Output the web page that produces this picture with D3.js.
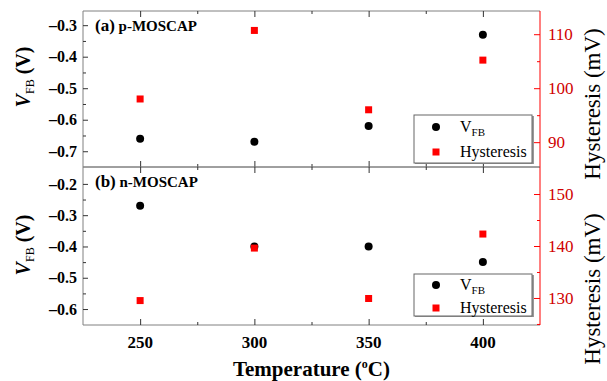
<!DOCTYPE html>
<html>
<head>
<meta charset="utf-8">
<script src="https://cdnjs.cloudflare.com/ajax/libs/d3/7.8.5/d3.min.js"></script>
<style>
  body { margin: 0; background: #fff; }
  svg text { font-family: "Liberation Serif", "Times New Roman", serif; }
</style>
</head>
<body>
<div id="chart"></div>
<script>
// data
const temps = [250, 300, 350, 400];
const vfbA = [-0.66, -0.67, -0.62, -0.33];   // p-MOSCAP flat band voltage (V)
const hysA = [98, 110.7, 96, 105.2];          // p-MOSCAP hysteresis (mV)
const vfbB = [-0.27, -0.40, -0.40, -0.45];   // n-MOSCAP
const hysB = [129.5, 139.6, 129.9, 142.3];

const xTicks = [250, 300, 350, 400];
const xMinor = [275, 325, 375];
const vTicksA = [-0.3, -0.4, -0.5, -0.6, -0.7];
const vMinorA = [-0.35, -0.45, -0.55, -0.65];
const hTicksA = [90, 100, 110];
const hMinorA = [95, 105];
const vTicksB = [-0.2, -0.3, -0.4, -0.5, -0.6];
const vMinorB = [-0.25, -0.35, -0.45, -0.55];
const hTicksB = [130, 140, 150];
const hMinorB = [125, 135, 145];

const W = 607, H = 381;
const L = 83, R = 540, T = 11, MID = 167, B = 325;
const gray = "#808080", red = "#ff0000";

const svg = d3.select("#chart").append("svg")
    .attr("width", W).attr("height", H);

const x = d3.scaleLinear().domain([225, 425]).range([L, R]);

const panels = [
  {top: T, bot: MID, vDom: [-0.75, -0.255], hDom: [85.4, 114.3], vfb: vfbA, hys: hysA,
   vT: vTicksA, vM: vMinorA, hT: hTicksA, hM: hMinorA, tag: "(a)", name: " p-MOSCAP",
   labY: 77, hLabY: 104},
  {top: MID, bot: B, vDom: [-0.651, -0.146], hDom: [124.8, 155.2], vfb: vfbB, hys: hysB,
   vT: vTicksB, vM: vMinorB, hT: hTicksB, hM: hMinorB, tag: "(b)", name: " n-MOSCAP",
   labY: 245, hLabY: 289}
];

function styleAxis(g, col) {
  g.select(".domain").remove();
  g.selectAll(".tick line").attr("stroke", col);
}

panels.forEach((p, i) => {
  const yl = d3.scaleLinear().domain(p.vDom).range([p.bot, p.top]);
  const yr = d3.scaleLinear().domain(p.hDom).range([p.bot, p.top]);

  // frame
  svg.append("line").attr("x1", L).attr("x2", L).attr("y1", p.top).attr("y2", p.bot).attr("stroke", gray);
  svg.append("line").attr("x1", L).attr("x2", R).attr("y1", p.top).attr("y2", p.top).attr("stroke", gray);
  svg.append("line").attr("x1", L).attr("x2", R).attr("y1", p.bot).attr("y2", p.bot).attr("stroke", gray);
  svg.append("line").attr("x1", R).attr("x2", R).attr("y1", p.top).attr("y2", p.bot).attr("stroke", red);

  // left axis
  const gl = svg.append("g").attr("transform", `translate(${L},0)`)
      .call(d3.axisLeft(yl).tickValues(p.vT).tickSize(-5).tickPadding(6).tickFormat(d3.format(".1f")));
  styleAxis(gl, "#333");
  gl.selectAll("text").attr("font-size", 16).attr("font-weight", "bold").attr("fill", "#000")
    .text(d => "\u2013" + Math.abs(d).toFixed(1));
  const glm = svg.append("g").attr("transform", `translate(${L},0)`)
      .call(d3.axisLeft(yl).tickValues(p.vM).tickSize(-3).tickFormat(""));
  styleAxis(glm, "#333");

  // right axis
  const gr = svg.append("g").attr("transform", `translate(${R},0)`)
      .call(d3.axisRight(yr).tickValues(p.hT).tickSize(-6).tickPadding(8));
  styleAxis(gr, red);
  gr.selectAll("text").attr("font-size", 17).attr("fill", "#d00000");
  const grm = svg.append("g").attr("transform", `translate(${R},0)`)
      .call(d3.axisRight(yr).tickValues(p.hM).tickSize(-3).tickFormat(""));
  styleAxis(grm, red);

  // x ticks, inward on both top and bottom
  [[p.bot, d3.axisBottom], [p.top, d3.axisTop]].forEach(([yy, ax]) => {
    const g1 = svg.append("g").attr("transform", `translate(0,${yy})`)
        .call(ax(x).tickValues(xTicks).tickSize(-6).tickFormat(""));
    styleAxis(g1, "#333");
    const g2 = svg.append("g").attr("transform", `translate(0,${yy})`)
        .call(ax(x).tickValues(xMinor).tickSize(-3).tickFormat(""));
    styleAxis(g2, "#333");
  });

  // points
  svg.append("g").selectAll("circle").data(temps).join("circle")
      .attr("cx", d => x(d)).attr("cy", (d, j) => yl(p.vfb[j])).attr("r", 4).attr("fill", "#000");
  svg.append("g").selectAll("rect").data(temps).join("rect")
      .attr("x", d => x(d) - 3.5).attr("y", (d, j) => yr(p.hys[j]) - 3.5)
      .attr("width", 7).attr("height", 7).attr("fill", red);

  // panel tag
  const t = svg.append("text").attr("x", 95).attr("y", p.top + 20).attr("font-weight", "bold");
  t.append("tspan").attr("font-size", 17).text(p.tag);
  t.append("tspan").attr("font-size", 15).text(p.name);

  // left label
  const ll = svg.append("text").attr("transform", `translate(30,${p.labY}) rotate(-90)`)
      .attr("text-anchor", "middle").attr("font-size", 20).attr("font-weight", "bold");
  ll.append("tspan").attr("font-style", "italic").text("V");
  ll.append("tspan").attr("font-size", 12).attr("font-weight", "normal").attr("dy", 4).text("FB");
  ll.append("tspan").attr("dy", -4).text(" (V)");

  // right label
  svg.append("text").attr("transform", `translate(600,${p.hLabY}) rotate(-90)`)
      .attr("text-anchor", "middle").attr("font-size", 23).text("Hysteresis (mV)");

  // legend
  const lgTop = i === 0 ? 115 : 274;
  const lgH = i === 0 ? 48 : 42;
  const lg = svg.append("g");
  lg.append("rect").attr("x", 415).attr("y", lgTop + 1).attr("width", 119).attr("height", lgH)
      .attr("fill", "#999");
  lg.append("rect").attr("x", 414).attr("y", lgTop).attr("width", 118).attr("height", lgH)
      .attr("fill", "#fff").attr("stroke", "#666");
  const r1 = lgTop + (i === 0 ? 12 : 11), r2 = lgTop + (i === 0 ? 37 : 34);
  lg.append("circle").attr("cx", 436).attr("cy", r1).attr("r", 4).attr("fill", "#000");
  lg.append("rect").attr("x", 432.5).attr("y", r2 - 3.5).attr("width", 7).attr("height", 7).attr("fill", red);
  const lt = lg.append("text").attr("x", 460).attr("y", r1 + 5).attr("font-size", 16);
  lt.append("tspan").text("V");
  lt.append("tspan").attr("font-size", 11).attr("dy", 4).text("FB");
  lg.append("text").attr("x", 460).attr("y", r2 + 5).attr("font-size", 16).text("Hysteresis");
});

// x tick labels and title
svg.append("g").selectAll("text").data(xTicks).join("text")
    .attr("x", d => x(d)).attr("y", 348).attr("text-anchor", "middle")
    .attr("font-size", 17).attr("font-weight", "bold").text(d => d);

const xt = svg.append("text").attr("x", (L + R) / 2).attr("y", 376).attr("text-anchor", "middle")
    .attr("font-size", 21).attr("font-weight", "bold");
xt.append("tspan").text("Temperature (");
xt.append("tspan").attr("font-size", 12).attr("dy", -8).text("o");
xt.append("tspan").attr("dy", 8).text("C)");
</script>
</body>
</html>
